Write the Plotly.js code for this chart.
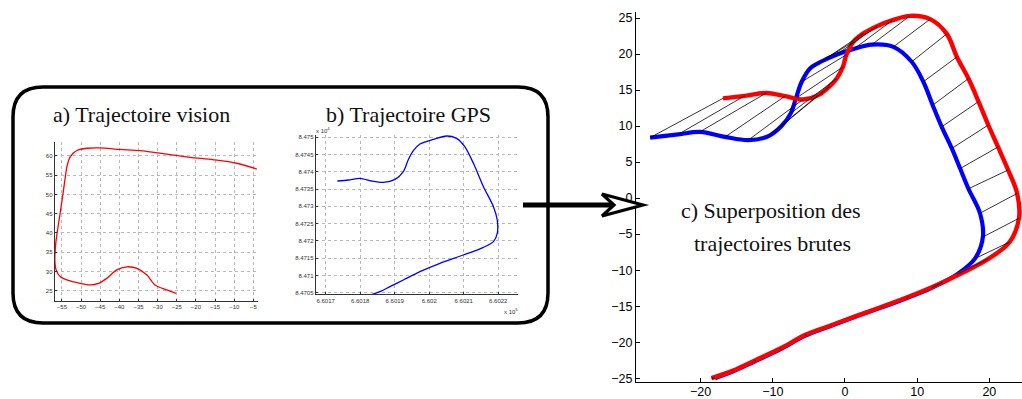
<!DOCTYPE html>
<html>
<head>
<meta charset="utf-8">
<script src="https://cdn.plot.ly/plotly-3.0.1.min.js"></script>
<style>html,body{margin:0;padding:0;background:#fff;}#chart{width:1022px;height:399px;}</style>
</head>
<body>
<div id="chart"></div>
<script>
// ---- c) superposition: time-paired samples (blue = GPS, red = vision) ----
const blueX = [-27.0,-23.1,-20.1,-16.6,-13.4,-10.6,-8.8,-7.5,-6.8,-6.0,-4.85,-3.2,-1.2,1.2,3.7,6.7,9.24,10.85,12.15,13.4,14.8,15.95,17.1,18.7,19.1,18.0,15.5,12.0,8.5,5.0,1.5,-2.0,-5.5,-9.0,-12.5,-15.5,-18.0];
const blueY = [8.4,8.85,9.2,8.5,8.05,8.6,10.0,11.8,13.85,16.15,18.0,19.0,19.9,20.7,21.3,21.0,18.93,16.15,12.9,9.9,6.9,4.1,1.3,-2.1,-5.4,-8.4,-10.6,-12.45,-13.9,-15.2,-16.45,-17.75,-19.1,-21.0,-22.65,-24.05,-25.0];
const redX = [-16.9,-13.9,-10.9,-8.3,-5.8,-3.7,-2.1,-1.15,-0.3,0.2,1.15,2.6,4.5,6.6,9.0,11.8,14.1,15.5,17.1,18.5,19.85,21.2,22.6,23.85,24.1,22.8,19.9,13.5,8.8,5.2,1.6,-1.9,-5.4,-8.9,-12.4,-15.5,-18.5];
const redY = [13.85,14.2,14.6,14.15,13.7,14.3,15.55,16.6,18.2,19.9,21.7,22.9,23.9,24.7,25.3,24.85,22.8,19.6,16.6,13.4,10.15,7.1,3.9,0.65,-2.8,-6.1,-8.4,-11.7,-13.7,-15.05,-16.35,-17.65,-18.95,-20.85,-22.5,-23.95,-25.0];
const cTicksX = [-20,-10,0,10,20];
const cTicksY = [-25,-20,-15,-10,-5,0,5,10,15,20,25];

// ---- a) vision trajectory ----
const aX = [-4.1,-9.35,-15.4,-21.5,-27.6,-34.6,-39.8,-45.0,-48.5,-51.1,-52.8,-53.7,-54.1,-54.7,-55.6,-56.5,-56.8,-56.8,-56.5,-55.4,-53.7,-50.2,-47.6,-45.4,-43.3,-40.7,-38.0,-35.4,-32.8,-30.7,-27.6,-25.2];
const aY = [56.6,58.1,59.0,59.65,60.5,61.4,61.7,62.1,62.0,61.4,59.8,57.2,54.6,50.3,44.2,38.2,34.7,32.1,30.4,28.6,27.8,26.9,26.5,26.9,28.2,30.4,31.2,30.8,29.1,26.5,25.2,24.3];
const aTicksX = [-55,-50,-45,-40,-35,-30,-25,-20,-15,-10,-5];
const aTicksY = [25,30,35,40,45,50,55,60];

// ---- b) GPS trajectory (x 10^5, y 10^4) ----
const bX = [6.601734,6.601766,6.601799,6.601833,6.601867,6.601901,6.601925,6.601939,6.601954,6.601973,6.602012,6.602050,6.602079,6.602103,6.602128,6.602157,6.602186,6.602197,6.602197,6.602186,6.602157,6.602099,6.602031,6.601973,6.601925,6.601886,6.601857,6.601824];
const bY = [8.473735,8.473764,8.473812,8.473735,8.473696,8.473783,8.474005,8.474343,8.474614,8.474807,8.474942,8.475039,8.474971,8.474730,8.474247,8.473571,8.472991,8.472605,8.472219,8.471977,8.471813,8.471591,8.471350,8.471108,8.470867,8.470674,8.470529,8.470413];
const bTicksX = [6.6017,6.6018,6.6019,6.6020,6.6021,6.6022];
const bTickLabelsX = ['6.6017','6.6018','6.6019','6.602','6.6021','6.6022'];
const bTicksY = [8.4705,8.4710,8.4715,8.4720,8.4725,8.4730,8.4735,8.4740,8.4745,8.4750];
const bTickLabelsY = ['8.4705','8.471','8.4715','8.472','8.4725','8.473','8.4735','8.474','8.4745','8.475'];

const W = 1022, H = 399;
const px = (x) => x / W, py = (y) => 1 - y / H;
const P = (x, y) => `${px(x)},${py(y)}`;

// hatch segments built from paired samples
const hx = [], hy = [];
for (let i = 0; i < blueX.length; i++) { hx.push(blueX[i], redX[i], null); hy.push(blueY[i], redY[i], null); }

const traces = [
  {x: blueX, y: blueY, xaxis:'x', yaxis:'y', mode:'lines', line:{color:'#0000ff', width:4.2, shape:'spline', smoothing:1}, hoverinfo:'skip'},
  {x: redX, y: redY, xaxis:'x', yaxis:'y', mode:'lines', line:{color:'#ff0000', width:4.4, shape:'spline', smoothing:1}, hoverinfo:'skip'},
  {x: hx, y: hy, xaxis:'x', yaxis:'y', mode:'lines', connectgaps:false, line:{color:'#000', width:0.8}, hoverinfo:'skip'},
  {x: aX, y: aY, xaxis:'x2', yaxis:'y2', mode:'lines', line:{color:'#ff0000', width:1.3, shape:'spline', smoothing:0.8}, hoverinfo:'skip', cliponaxis:false},
  {x: bX, y: bY, xaxis:'x3', yaxis:'y3', mode:'lines', line:{color:'#0000ff', width:1.3, shape:'spline', smoothing:0.8}, hoverinfo:'skip'}
];

const bigTick = {family:'Liberation Sans, Arial, sans-serif', size:12.5, color:'#000'};
const smallTick = {family:'Liberation Sans, Arial, sans-serif', size:6, color:'#333'};
const smallAxis = {showline:true, linecolor:'#333', linewidth:1.3, ticks:'inside', ticklen:2, tickcolor:'#333',
  showgrid:true, gridcolor:'#b8b8b8', griddash:'dot', gridwidth:1, zeroline:false, tickfont:smallTick, tickmode:'array'};

const serif = {family:'Liberation Serif, serif', size:22, color:'#111'};

const layout = {
  width: W, height: H,
  margin: {l:0, r:0, t:0, b:0},
  paper_bgcolor:'#fff', plot_bgcolor:'rgba(0,0,0,0)',
  showlegend:false,
  xaxis: {domain:[px(636), 1], range:[-28.95, 24.52], anchor:'y', showline:true, linecolor:'#000', linewidth:1,
    ticks:'inside', ticklen:4, tickcolor:'#000', tickmode:'array', tickvals:cTicksX, showgrid:false, zeroline:false, tickfont:bigTick,
    ticklabelstandoff:-2},
  yaxis: {domain:[py(381.7), py(11.7)], range:[-25.49, 25.88], anchor:'x', showline:true, linecolor:'#000', linewidth:1,
    ticks:'inside', ticklen:4, tickcolor:'#000', tickmode:'array', tickvals:cTicksY, showgrid:false, zeroline:false, tickfont:bigTick},
  xaxis2: Object.assign({}, smallAxis, {domain:[px(55), px(258)], range:[-56.8, -3.8], anchor:'y2', tickvals:aTicksX}),
  yaxis2: Object.assign({}, smallAxis, {domain:[py(300.7), py(141.7)], range:[22.4, 63.7], anchor:'x2', tickvals:aTicksY}),
  xaxis3: Object.assign({}, smallAxis, {domain:[px(316), px(518.3)], range:[6.601672, 6.602258], anchor:'y3', tickvals:bTicksX, ticktext:bTickLabelsX}),
  yaxis3: Object.assign({}, smallAxis, {domain:[py(294), py(135)], range:[8.470461, 8.475068], anchor:'x3', tickvals:bTicksY, ticktext:bTickLabelsY}),
  shapes: [
    // rounded frame around a) and b)
    {type:'path', xref:'paper', yref:'paper', layer:'above', line:{color:'#000', width:3.5},
     path:`M ${P(43,87)} L ${P(518,87)} Q ${P(548,87)} ${P(548,117)} L ${P(548,293)} Q ${P(548,323)} ${P(518,323)} L ${P(43,323)} Q ${P(13,323)} ${P(13,293)} L ${P(13,117)} Q ${P(13,87)} ${P(43,87)} Z`},
    // arrow shaft
    {type:'path', xref:'paper', yref:'paper', layer:'above', line:{color:'#000', width:5},
     path:`M ${P(523,205)} L ${P(612,205)}`},
    // arrow head
    {type:'path', xref:'paper', yref:'paper', layer:'above', fillcolor:'#fff', line:{color:'#000', width:3.2},
     path:`M ${P(643,205)} L ${P(602,194)} L ${P(614,205)} L ${P(602,216)} Z`}
  ],
  annotations: [
    {xref:'paper', yref:'paper', x:px(141), y:py(114), text:'a) Trajectoire vision', showarrow:false, xanchor:'center', yanchor:'middle', font:serif},
    {xref:'paper', yref:'paper', x:px(408), y:py(114), text:'b) Trajectoire GPS', showarrow:false, xanchor:'center', yanchor:'middle', font:serif},
    {xref:'paper', yref:'paper', x:px(771), y:py(210), text:'c) Superposition des', showarrow:false, xanchor:'center', yanchor:'middle', font:serif},
    {xref:'paper', yref:'paper', x:px(772), y:py(243), text:'trajectoires brutes', showarrow:false, xanchor:'center', yanchor:'middle', font:serif},
    {xref:'paper', yref:'paper', x:px(323), y:py(130), text:'x 10<sup>4</sup>', showarrow:false, xanchor:'center', yanchor:'middle',
     font:{family:'Liberation Sans, Arial, sans-serif', size:6, color:'#333'}},
    {xref:'paper', yref:'paper', x:px(511), y:py(311), text:'x 10<sup>5</sup>', showarrow:false, xanchor:'center', yanchor:'middle',
     font:{family:'Liberation Sans, Arial, sans-serif', size:6, color:'#333'}}
  ]
};

Plotly.newPlot('chart', traces, layout, {staticPlot:true, displayModeBar:false});
</script>
</body>
</html>
